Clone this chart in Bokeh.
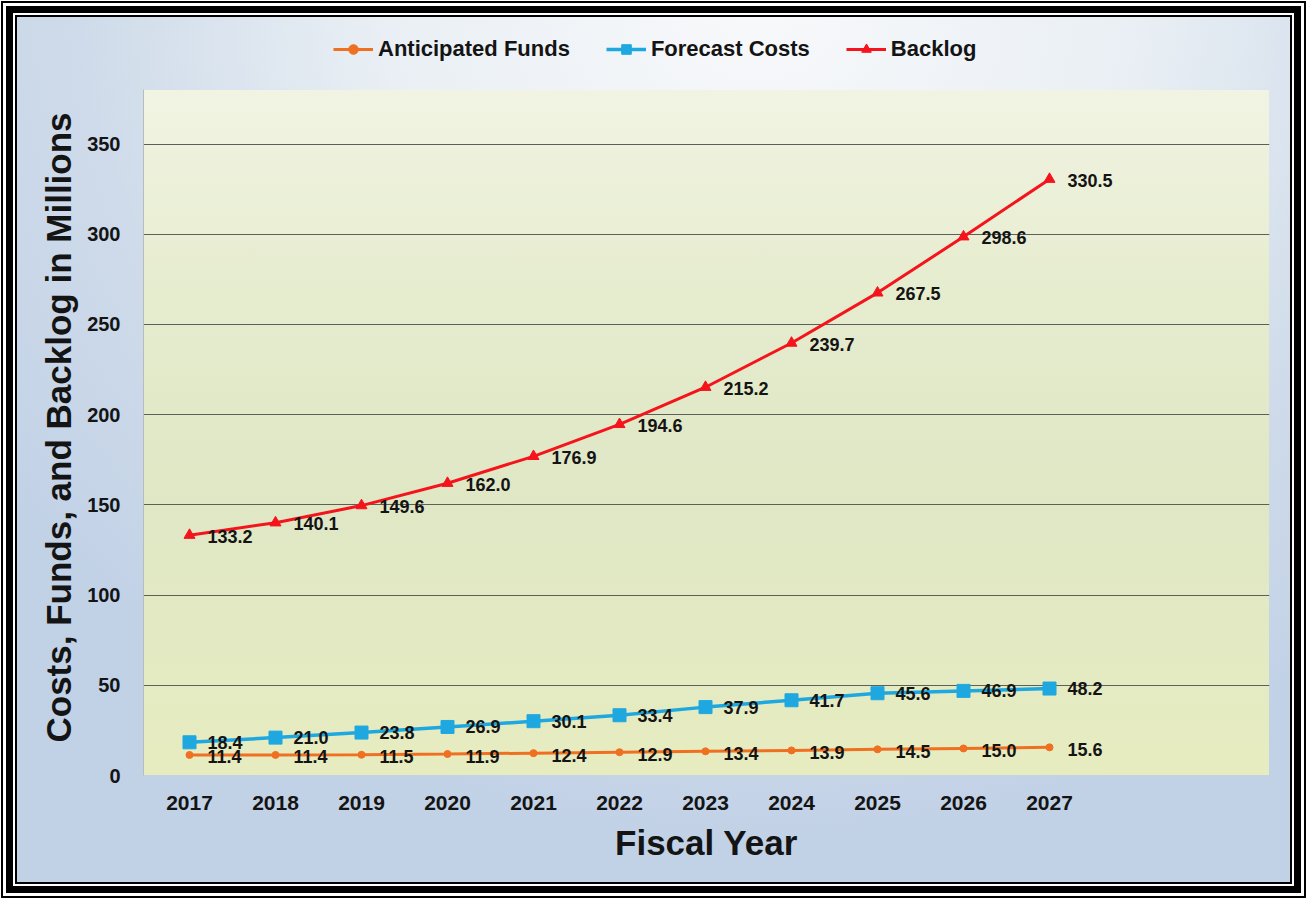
from bokeh.plotting import figure
from bokeh.models import ColumnDataSource, FixedTicker, LabelSet, Legend, LegendItem, Range1d, Title
from bokeh.core.properties import value
from bokeh.embed import file_html
from bokeh.resources import INLINE

# ---------------- data ----------------
years = [2017, 2018, 2019, 2020, 2021, 2022, 2023, 2024, 2025, 2026, 2027]
year_labels = ["2017", "2018", "2019", "2020", "2021", "2022", "2023", "2024", "2025", "2026", "2027"]
anticipated_funds = [11.4, 11.4, 11.5, 11.9, 12.4, 12.9, 13.4, 13.9, 14.5, 15.0, 15.6]
forecast_costs = [18.4, 21.0, 23.8, 26.9, 30.1, 33.4, 37.9, 41.7, 45.6, 46.9, 48.2]
backlog = [133.2, 140.1, 149.6, 162.0, 176.9, 194.6, 215.2, 239.7, 267.5, 298.6, 330.5]
series_names = ["Anticipated Funds", "Forecast Costs", "Backlog"]
y_ticks = [0, 50, 100, 150, 200, 250, 300, 350]
y_tick_labels = ["0", "50", "100", "150", "200", "250", "300", "350"]
x_title = "Fiscal Year"
y_title = "Costs, Funds, and Backlog in Millions"

# ---------------- styling ----------------
FONT = "Liberation Sans"
TEXT = "#141414"
ORANGE = "#f07021"
BLUE = "#1fa8e0"
RED = "#f5141c"

W, H = 1307, 899
# frame extends up over the legend strip; the visible plot area is painted by CSS
ML, MR, MT, MB = 143, 38, 20, 124
PLOT_TOP = 90                      # top of the visible plot area (px)
PX_PER_UNIT = 631.5 / 350.0
y_axis_top = 380
y_max = (H - MB - MT) / PX_PER_UNIT

src = ColumnDataSource(dict(
    year=years,
    funds=anticipated_funds,
    costs=forecast_costs,
    backlog=backlog,
    funds_lbl=[f"{v:.1f}" for v in anticipated_funds],
    costs_lbl=[f"{v:.1f}" for v in forecast_costs],
    backlog_lbl=[f"{v:.1f}" for v in backlog],
))

p = figure(width=W, height=H, output_backend="svg", toolbar_location=None,
           x_range=Range1d(2016.465, 2029.558), y_range=Range1d(0, y_max),
           min_border_left=ML, min_border_right=MR, min_border_top=MT, min_border_bottom=MB)
p.border_fill_alpha = 0
p.background_fill_alpha = 0
p.outline_line_color = None

fw, fh = W - ML - MR, H - MB - PLOT_TOP
p.styles = {
    "background-image": (
        "linear-gradient(to bottom, #f1f4e3 0%, #e6ecce 30%, #dfe7c5 60%, #e7ecc0 100%), "
        "radial-gradient(ellipse 72% 95% at 58% 0%, #f8f9fb 0%, #e9eff4 40%, #cfdbea 72%, #c1d1e6 100%)"
    ),
    "background-position": f"{ML}px {PLOT_TOP}px, 0px 0px",
    "background-size": f"{fw}px {fh}px, 100% 100%",
    "background-repeat": "no-repeat",
    "box-shadow": ("inset 0 0 0 1px #fff, inset 0 0 0 3px #000, inset 0 0 0 6px #fff, "
                   "inset 0 0 0 13px #000, inset 0 0 0 15px #fff, inset 0 0 0 17px #000"),
}

# axes
p.xaxis.ticker = FixedTicker(ticks=years)
p.xaxis.major_label_overrides = dict(zip(years, year_labels))
p.xaxis.axis_line_color = None
p.xaxis.major_tick_line_color = None
p.xaxis.minor_tick_line_color = None
p.xaxis.major_label_standoff = 14
p.xaxis.major_label_text_font = FONT
p.xaxis.major_label_text_font_style = "bold"
p.xaxis.major_label_text_font_size = "21px"
p.xaxis.major_label_text_color = TEXT
p.xaxis.axis_label = x_title
p.xaxis.axis_label_text_font = FONT
p.xaxis.axis_label_text_font_style = "bold"
p.xaxis.axis_label_text_font_size = "35px"
p.xaxis.axis_label_text_color = TEXT
p.xaxis.axis_label_standoff = 10

p.yaxis.ticker = FixedTicker(ticks=y_ticks)
p.yaxis.bounds = (0, y_axis_top)
p.yaxis.major_label_overrides = dict(zip(y_ticks, y_tick_labels))
p.yaxis.axis_line_color = "#b9bcbf"
p.yaxis.axis_line_width = 1
p.yaxis.major_tick_line_color = None
p.yaxis.minor_tick_line_color = None
p.yaxis.major_label_standoff = 17
p.yaxis.major_label_text_font = FONT
p.yaxis.major_label_text_font_style = "bold"
p.yaxis.major_label_text_font_size = "20px"
p.yaxis.major_label_text_color = TEXT

# y-axis title as a left-side title, placed along the visible plot area
p.add_layout(Title(text=y_title, align="left", offset=33, standoff=13,
                   text_font=FONT, text_font_size="35px", text_font_style="bold",
                   text_color=TEXT), "left")

p.xgrid.grid_line_color = None
p.ygrid.ticker = FixedTicker(ticks=y_ticks[1:])
p.ygrid.grid_line_color = "#5e5f58"
p.ygrid.grid_line_width = 1.2

# series
l1 = p.line("year", "funds", source=src, line_color=ORANGE, line_width=3)
m1 = p.scatter("year", "funds", source=src, marker="circle", size=7,
               fill_color=ORANGE, line_color=ORANGE)
l2 = p.line("year", "costs", source=src, line_color=BLUE, line_width=3.5)
m2 = p.scatter("year", "costs", source=src, marker="square", size=13,
               fill_color=BLUE, line_color=BLUE)
l3 = p.line("year", "backlog", source=src, line_color=RED, line_width=3)
m3 = p.scatter("year", "backlog", source=src, marker="triangle", size=11,
               fill_color=RED, line_color=RED)

for col, lbl, yoff in (("funds", "funds_lbl", -2), ("costs", "costs_lbl", 0), ("backlog", "backlog_lbl", -1)):
    p.add_layout(LabelSet(x="year", y=col, text=lbl, source=src, x_offset=18, y_offset=yoff,
                          text_align="left", text_baseline="middle",
                          text_font=value(FONT), text_font_style="bold",
                          text_font_size="18px", text_color=TEXT))

legend = Legend(items=[LegendItem(label=series_names[0], renderers=[l1, m1]),
                       LegendItem(label=series_names[1], renderers=[l2, m2]),
                       LegendItem(label=series_names[2], renderers=[l3, m3])],
                orientation="horizontal", location=(190, H - MB - 62),
                glyph_width=40, glyph_height=24, label_standoff=5, spacing=36,
                padding=0, margin=0, border_line_color=None, background_fill_alpha=0,
                label_text_font=FONT, label_text_font_style="bold",
                label_text_font_size="22px", label_text_color=TEXT)
p.add_layout(legend)

open("out.html", "w").write(file_html(p, INLINE))
